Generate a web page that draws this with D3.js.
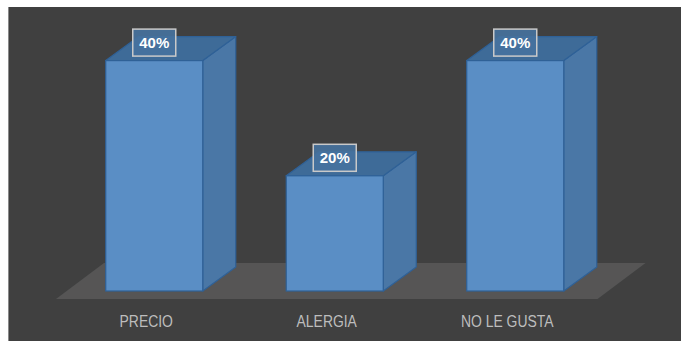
<!DOCTYPE html>
<html>
<head>
<meta charset="utf-8">
<script src="https://cdn.jsdelivr.net/npm/d3@7/dist/d3.min.js"></script>
<style>
  html, body { margin: 0; padding: 0; background: #ffffff; }
  svg { display: block; }
</style>
</head>
<body>
<svg id="chart" width="681" height="341"></svg>
<script>
// Reasons and their shares
const categories = ["PRECIO", "ALERGIA", "NO LE GUSTA"];
const values = [0.40, 0.20, 0.40];
const valueLabels = ["40%", "20%", "40%"];

const svg = d3.select("#chart");
const W = 681, H = 341;

// dark panel
svg.append("rect").attr("x", 8).attr("y", 7).attr("width", W - 8).attr("height", H - 7).attr("fill", "#404040");
svg.append("line").attr("x1", 8.5).attr("x2", 8.5).attr("y1", 7).attr("y2", H)
  .attr("stroke", "#8a8a8a").attr("stroke-width", 1);

const x = d3.scaleBand().domain(categories).range([64, 605.5])
  .paddingInner(0.4626).paddingOuter(0.2313);
const y = d3.scaleLinear().domain([0, 0.4]).range([291, 60.6]);

// 3-D depth offset
const dx = 33, dy = -24;

// floor
const floorFront = 299, floorBack = 263;
const fl = x.range()[0] - 8, fr = x.range()[1] - 8;
const slope = 48 / (floorFront - floorBack);
svg.append("path")
  .attr("d", `M${fl},${floorFront} L${fr},${floorFront} L${fr + (floorFront - floorBack) * slope},${floorBack} L${fl + (floorFront - floorBack) * slope},${floorBack} Z`)
  .attr("fill", "#565555");

const data = categories.map((c, i) => ({ cat: c, v: values[i], label: valueLabels[i] }));
const g = svg.append("g");
const bars = g.selectAll("g.bar").data(data).join("g").attr("class", "bar");
const edge = "#2f6197";

// side face
bars.append("path")
  .attr("d", d => {
    const x1 = x(d.cat) + x.bandwidth(), y0 = y(0), y1 = y(d.v);
    return `M${x1},${y0} L${x1},${y1} L${x1 + dx},${y1 + dy} L${x1 + dx},${y0 + dy} Z`;
  })
  .attr("fill", "#4a77a6").attr("stroke", edge).attr("stroke-width", 1.2).attr("stroke-linejoin", "round");

// top face
bars.append("path")
  .attr("d", d => {
    const x0 = x(d.cat), x1 = x0 + x.bandwidth(), y1 = y(d.v);
    return `M${x0},${y1} L${x1},${y1} L${x1 + dx},${y1 + dy} L${x0 + dx},${y1 + dy} Z`;
  })
  .attr("fill", "#3e6b98").attr("stroke", edge).attr("stroke-width", 1.2).attr("stroke-linejoin", "round");

// front face
bars.append("rect")
  .attr("x", d => x(d.cat))
  .attr("y", d => y(d.v))
  .attr("width", x.bandwidth())
  .attr("height", d => y(0) - y(d.v))
  .attr("fill", "#5a8ec5").attr("stroke", edge).attr("stroke-width", 1.2);

// value labels in boxes
const bw = 43, bh = 27;
bars.append("rect")
  .attr("x", d => x(d.cat) + x.bandwidth() / 2 - bw / 2)
  .attr("y", d => y(d.v) - 18 - bh / 2)
  .attr("width", bw).attr("height", bh)
  .attr("fill", "#46729f").attr("fill-opacity", 0.9)
  .attr("stroke", "#c9c9c9").attr("stroke-width", 1.5);

bars.append("text")
  .attr("x", d => x(d.cat) + x.bandwidth() / 2)
  .attr("y", d => y(d.v) - 18)
  .attr("dy", "0.36em")
  .attr("text-anchor", "middle")
  .attr("font-family", "'Liberation Sans', Arial, sans-serif")
  .attr("font-weight", "bold")
  .attr("font-size", 15)
  .attr("fill", "#ffffff")
  .text(d => d.label);

// category axis labels (condensed horizontally)
svg.append("g").selectAll("text").data(categories).join("text")
  .attr("transform", d => `translate(${x(d) + x.bandwidth() / 2 - 8},327) scale(0.87,1)`)
  .attr("text-anchor", "middle")
  .attr("font-family", "'Liberation Sans', Arial, sans-serif")
  .attr("font-size", 16)
  .attr("fill", "#bdbdbd")
  .text(d => d);
</script>
</body>
</html>
